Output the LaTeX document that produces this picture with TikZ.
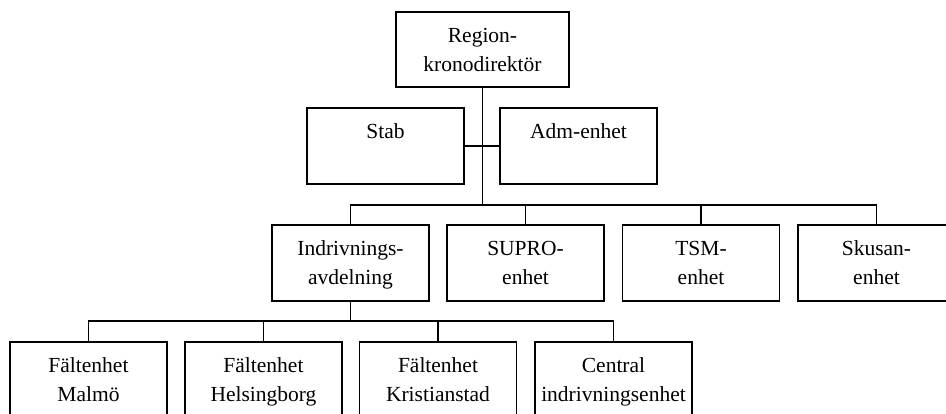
\documentclass[tikz,border=0pt]{standalone}
\usepackage{fontspec}
\setmainfont{Liberation Serif}
\begin{document}
\begin{tikzpicture}[x=1pt,y=-1pt,
  orgbox/.style={draw, line width=1.4pt, rectangle, minimum width=157pt, minimum height=76pt, inner sep=0pt, outer sep=0pt},
  txt/.style={anchor=base, inner sep=0pt, font=\fontsize{21.5}{26}\selectfont},
  conn/.style={line width=1.4pt}]
\useasboundingbox (0,0) rectangle (946,413);
\clip (0,0) rectangle (946,413);
\newcommand\twolines[3]{%
  \node[txt] (#1-a) at ([yshift=-30pt]#1.north) {#2};
  \node[txt] (#1-b) at ([yshift=-59pt]#1.north) {#3};}
% boxes
\node[orgbox, minimum width=173pt, minimum height=75pt] (top) at (482.5,49.5) {};
\node[orgbox] (stab) at (385.5,146) {};
\node[orgbox] (adm) at (578.5,146) {};
\node[orgbox] (ind) at (350.5,263) {};
\node[orgbox] (supro) at (525.5,263) {};
\node[orgbox] (tsm) at (701,263) {};
\node[orgbox] (skusan) at (876.5,263) {};
\node[orgbox] (malmo) at (88.5,380) {};
\node[orgbox] (helsing) at (263.5,380) {};
\node[orgbox] (krist) at (438,380) {};
\node[orgbox] (central) at (613.5,380) {};
% texts
\twolines{top}{Region-}{kronodirektör}
\node[txt] (stab-a) at ([yshift=-30pt]stab.north) {Stab};
\node[txt] (adm-a) at ([yshift=-30pt]adm.north) {Adm-enhet};
\twolines{ind}{Indrivnings-}{avdelning}
\twolines{supro}{SUPRO-}{enhet}
\twolines{tsm}{TSM-}{enhet}
\twolines{skusan}{Skusan-}{enhet}
\twolines{malmo}{Fältenhet}{Malmö}
\twolines{helsing}{Fältenhet}{Helsingborg}
\twolines{krist}{Fältenhet}{Kristianstad}
\twolines{central}{Central}{indrivningsenhet}
% connectors
\coordinate (busU) at (482,205);
\coordinate (busL) at (351,321);
\draw[conn] (top.south) -- (top.south |- busU);
\draw[conn] (stab.east) -- (adm.west);
\draw[conn] (ind.north) -- (ind.north |- busU) -| (skusan.north);
\draw[conn] (supro.north) -- (supro.north |- busU);
\draw[conn] (tsm.north) -- (tsm.north |- busU);
\draw[conn] (ind.south) -- (ind.south |- busL);
\draw[conn] (malmo.north) -- (malmo.north |- busL) -| (central.north);
\draw[conn] (helsing.north) -- (helsing.north |- busL);
\draw[conn] (krist.north) -- (krist.north |- busL);
\end{tikzpicture}
\end{document}
